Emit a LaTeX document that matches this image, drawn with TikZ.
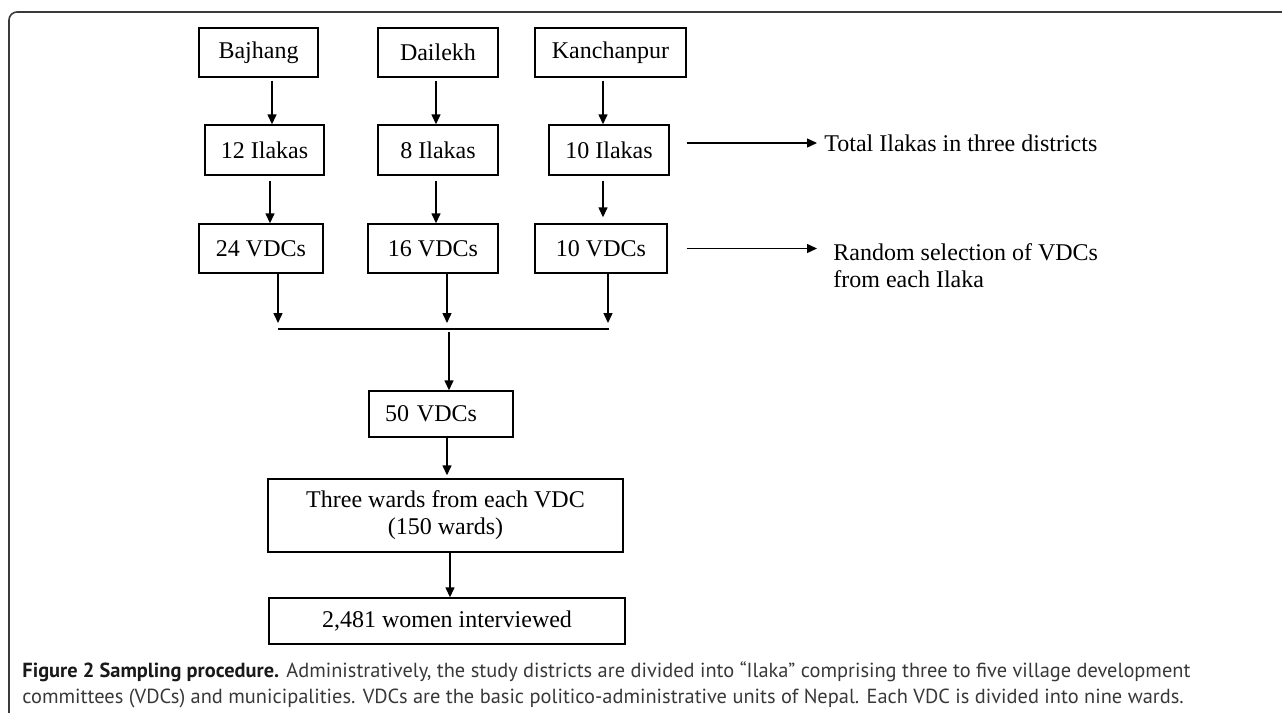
\documentclass[tikz,border=0pt]{standalone}
\usepackage{fontspec}
\setmainfont{Liberation Serif}
\newfontfamily\capfont{PT Sans}
\usetikzlibrary{arrows.meta}
\definecolor{capgray}{HTML}{383838}
\definecolor{framegray}{HTML}{3A3A3A}
\tikzset{
  box/.style={draw, line width=0.7pt, inner sep=0pt, font=\fontsize{12}{13.5}\selectfont},
  arr/.style={line width=0.7pt, -{Triangle[length=5pt,width=4.5pt]}},
  note/.style={inner ysep=0pt, font=\fontsize{12}{13.5}\selectfont},
  captxt/.style={anchor=base west, inner sep=0pt, text=capgray, font=\capfont\fontsize{10.2}{13}\selectfont},
}
\begin{document}
\begin{tikzpicture}[x=0.5pt,y=-0.5pt]
  \useasboundingbox (0,0) rectangle (1282,713);
  % frame
  \draw[framegray, line width=0.8pt, rounded corners=4pt] (9,713) -- (9,12) -- (1282,12);

  % districts
  \node[box, minimum width=59.5pt, minimum height=24.5pt] (baj) at (258.5,52.5) {Bajhang};
  \node[box, minimum width=60pt, minimum height=24.5pt] (dai) at (438,52.5) {Dailekh};
  \node[box, minimum width=75.5pt, minimum height=24.5pt] (kan) at (610.5,52.5) {Kanchanpur};

  % ilakas
  \node[box, minimum width=59.5pt, minimum height=25pt] (il12) at (264.5,150) {12 Ilakas};
  \node[box, minimum width=60pt, minimum height=25pt] (il8) at (438,150) {8 Ilakas};
  \node[box, minimum width=60pt, minimum height=25pt] (il10) at (609,150) {10 Ilakas};

  % vdcs
  \node[box, minimum width=62pt, minimum height=24.5pt] (v24) at (261,248.5) {24 VDCs};
  \node[box, minimum width=65pt, minimum height=24.5pt] (v16) at (433,248.5) {16 VDCs};
  \node[box, minimum width=66pt, minimum height=24.5pt] (v10) at (601,248.5) {10 VDCs};

  % merged
  \node[box, text width=56pt, inner xsep=8pt, align=left, minimum height=23pt] (v50) at (441,414) {50 VDCs};
  \node[box, align=center, minimum width=177.5pt, minimum height=36.5pt] (thr) at (445.5,515.5) {Three wards from each VDC\\(150 wards)};
  \node[box, minimum width=178pt, minimum height=23pt] (wom) at (447,621) {2,481 women interviewed};

  % notes
  \node[note, anchor=west, inner xsep=3.5pt] (tot) at (817,143) {Total Ilakas in three districts};
  \node[note, anchor=west, inner xsep=8pt, align=left] (rnd) at (817,265.5) {Random selection of VDCs\\from each Ilaka};

  % join line
  \coordinate (jl) at (278,329);
  \coordinate (jr) at (609,329);
  \coordinate (jm) at (449,329);
  \draw[line width=0.7pt] (jl) -- (jr);

  % arrows
  \draw[arr] ([xshift=6.75pt,yshift=-1.5pt]baj.south) -- ([xshift=6.75pt]baj.south |- il12.north);
  \draw[arr] ([xshift=-1pt,yshift=-1.5pt]dai.south) -- ([xshift=-1pt]dai.south |- il8.north);
  \draw[arr] ([xshift=-3.75pt,yshift=-1.5pt]kan.south) -- ([xshift=-3.75pt]kan.south |- il10.north);
  \draw[arr] ([xshift=2.75pt,yshift=-2.5pt]il12.south) -- ([xshift=2.75pt]il12.south |- v24.north);
  \draw[arr] ([xshift=-1pt,yshift=-2.5pt]il8.south) -- ([xshift=-1pt]il8.south |- v16.north);
  \draw[arr, shorten >=3pt] ([xshift=-3pt,yshift=-2.5pt]il10.south) -- ([xshift=-3pt]il10.south |- v10.north);
  \draw[arr, shorten >=3pt] ([xshift=8.5pt]v24.south) -- ([xshift=8.5pt]v24.south |- jl);
  \draw[arr, shorten >=3pt] ([xshift=7pt]v16.south) -- ([xshift=7pt]v16.south |- jl);
  \draw[arr, shorten >=3pt] ([xshift=3.5pt]v10.south) -- ([xshift=3.5pt]v10.south |- jl);
  \draw[arr] ([yshift=-1.5pt]jm) -- (jm |- v50.north);
  \draw[arr, shorten >=1.5pt] ([xshift=3pt]v50.south) -- ([xshift=3pt]v50.south |- thr.north);
  \draw[arr] ([xshift=2.25pt]thr.south) -- ([xshift=2.25pt]thr.south |- wom.north);
  \draw[arr] ([xshift=8.5pt]il10.east |- tot.west) -- (tot.west);
  \draw[arr] ([xshift=9.5pt]v10.east) -- (v10.east -| rnd.west);

  % caption
  \node[captxt] (cap1) at (22,677) {\textbf{\color{black!90}Figure 2 Sampling procedure.} Administratively, the study districts are divided into “Ilaka” comprising three to five village development};
  \node[captxt] (cap2) at (22,703) {committees (VDCs) and municipalities. VDCs are the basic politico-administrative units of Nepal. Each VDC is divided into nine wards.};
\end{tikzpicture}
\end{document}
